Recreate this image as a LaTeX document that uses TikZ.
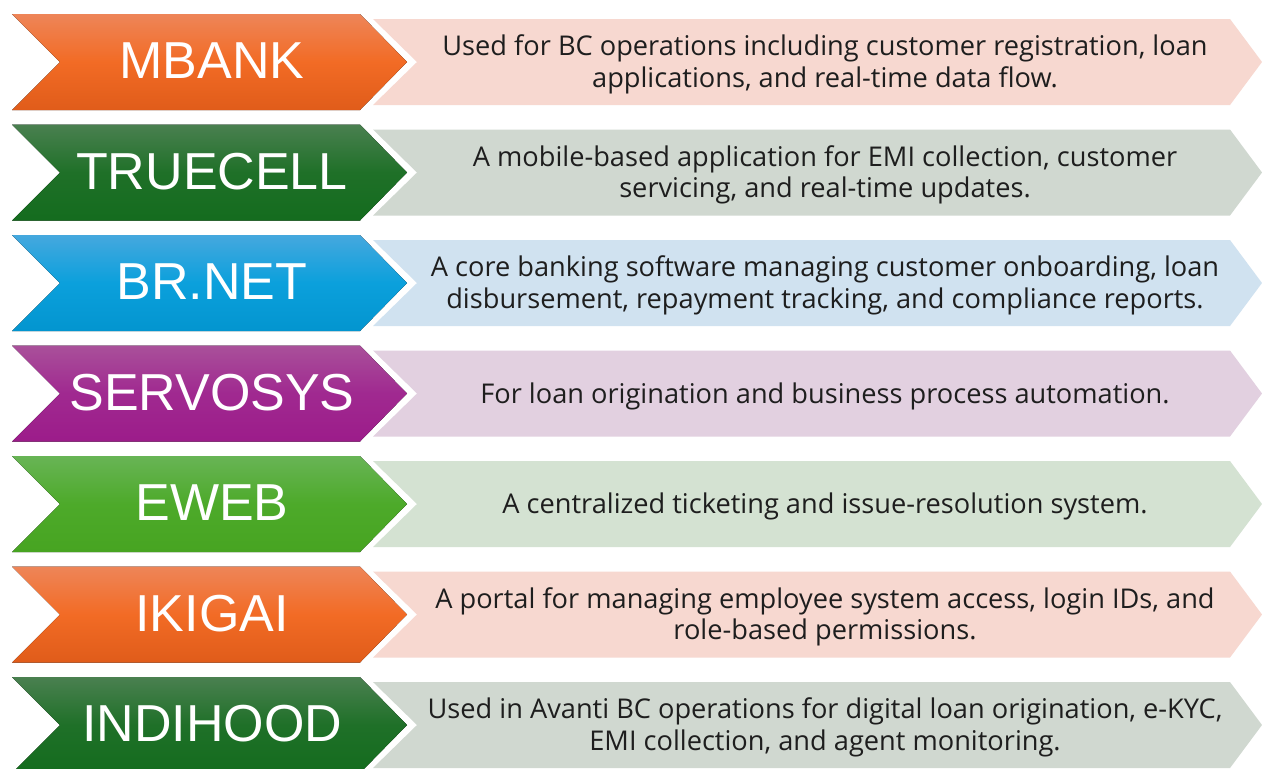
\documentclass[tikz,border=0pt]{standalone}
\usepackage{fontspec}
\setmainfont{Open Sans}
\newfontfamily\tagfont{Liberation Sans}

% gradient stops for the tags, and the pale fills behind the texts
\definecolor{orngTop}{HTML}{EE8558}
\definecolor{orngMid}{HTML}{F26B25}
\definecolor{orngBot}{HTML}{E05C1A}
\definecolor{orngPale}{HTML}{F7D8D0}
\definecolor{dgrnTop}{HTML}{4A8050}
\definecolor{dgrnMid}{HTML}{1F7028}
\definecolor{dgrnBot}{HTML}{146C1E}
\definecolor{dgrnPale}{HTML}{D0D8D0}
\definecolor{blueTop}{HTML}{45A8DE}
\definecolor{blueMid}{HTML}{0BA0DC}
\definecolor{blueBot}{HTML}{0395CF}
\definecolor{bluePale}{HTML}{D0E2F0}
\definecolor{purpTop}{HTML}{A9509A}
\definecolor{purpMid}{HTML}{A02990}
\definecolor{purpBot}{HTML}{9C1C8A}
\definecolor{purpPale}{HTML}{E2D0E0}
\definecolor{lgrnTop}{HTML}{68B455}
\definecolor{lgrnMid}{HTML}{4DAA2A}
\definecolor{lgrnBot}{HTML}{47A421}
\definecolor{lgrnPale}{HTML}{D4E2D2}
\definecolor{ink}{HTML}{1E1E1E}

\begin{document}
\begin{tikzpicture}[x=0.5pt, y=-0.5pt,
    tag/.style={font=\tagfont\fontsize{26}{28}\selectfont, text=white},
    desc/.style={font=\fontsize{13.6}{15.7}\selectfont, text=ink, align=center}]
  \clip (0,0) rectangle (1262,768);
  \fill[white] (0,0) rectangle (1262,768);
  \foreach \i/\name/\hue/\txt in {
      0/MBANK/orng/{Used for BC operations including customer registration, loan\\applications, and real-time data flow.},
      1/TRUECELL/dgrn/{A mobile-based application for EMI collection, customer\\servicing, and real-time updates.},
      2/BR.NET/blue/{A core banking software managing customer onboarding, loan\\disbursement, repayment tracking, and compliance reports.},
      3/SERVOSYS/purp/{For loan origination and business process automation.},
      4/EWEB/lgrn/{A centralized ticketing and issue-resolution system.},
      5/IKIGAI/orng/{A portal for managing employee system access, login IDs, and\\role-based permissions.},
      6/INDIHOOD/dgrn/{Used in Avanti BC operations for digital loan origination, e-KYC,\\EMI collection, and agent monitoring.}} {
    \pgfmathsetmacro\t{14+110.5*\i}
    % coloured tag chevron
    \fill[top color=\hue Top, bottom color=\hue Bot, middle color=\hue Mid]
      (12,\t) -- (360,\t) -- (407,\t+48) -- (360,\t+96) -- (12,\t+96) -- (60,\t+48) -- cycle;
    % pale band with the text
    \fill[\hue Pale]
      (373,\t+5) -- (1230,\t+5) -- (1262,\t+48) -- (1230,\t+91) -- (373,\t+91) -- (417,\t+48) -- cycle;
    \node[tag] (tag\i) at (212,\t+47) {\name};
    \node[desc] (desc\i) at (825,\t+50.5) {\txt};
  }
\end{tikzpicture}
\end{document}
